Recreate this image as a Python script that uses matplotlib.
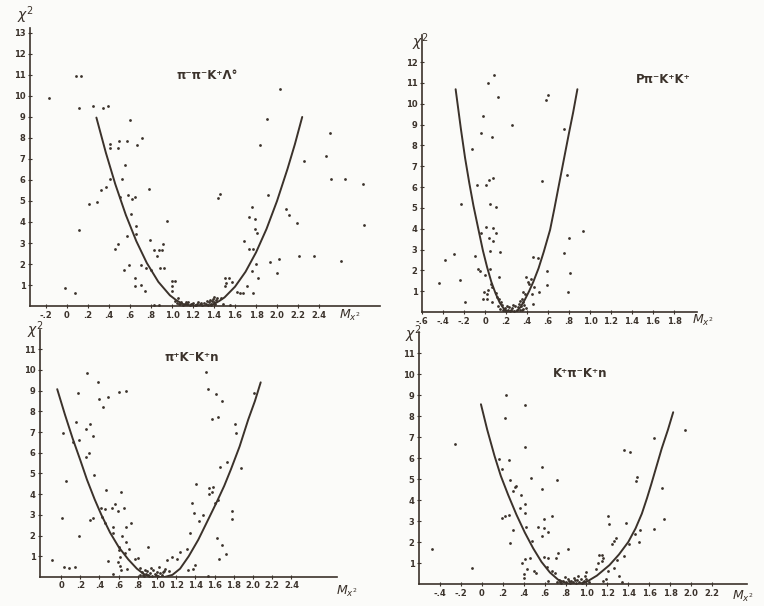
import matplotlib.pyplot as plt

INK = '#3b322b'
PAPER = '#fbfbf9'

# ---- panel 1 : pi- pi- K+ Lambda0
p1_x = [0.086, 0.13, -0.17, 0.114, 0.25, 0.34, 0.39, 0.60, 0.50, 0.41, 0.41, 0.486, 0.57, 0.667, 0.714,
        0.556, 0.41, 0.52, 0.32, 0.374, 0.78, 0.21, 0.29, 0.505, 0.578, 0.62, 0.65, 0.607, 0.114, 0.657,
        0.657, 0.574, 0.95, 0.486, 0.457, 0.79, 0.917, 0.826, 0.876, 0.908, 0.857, 0.587, 0.543, 0.705,
        0.755, 0.803, 0.886, 0.924, 0.648, 0.65, 0.70, 0.743, -0.02, 0.076, 0.997, 1.03, 1.0, 1.0, 0.83, 0.88,
        2.03, 1.90, 1.84, 2.50, 2.47, 2.26, 2.51, 2.65, 2.82, 2.83, 1.457, 1.435, 1.91, 1.76, 1.73, 1.79,
        2.09, 2.11, 2.19, 1.79, 1.81, 1.69, 1.73, 1.77, 2.02, 1.93, 2.21, 2.35, 2.61, 1.80, 1.765, 2.0,
        1.82, 1.50, 1.54, 1.57, 1.51, 1.50, 1.71, 1.62, 1.65, 1.68, 1.77, 1.43, 1.47, 1.49, 1.55,
        1.03, 1.05, 1.07, 1.09, 1.10, 1.12, 1.14, 1.15, 1.17, 1.19, 1.20, 1.22, 1.24, 1.25, 1.27, 1.29,
        1.30, 1.32, 1.34, 1.35, 1.37, 1.38, 1.39, 1.40, 1.41, 1.42, 1.06, 1.36, 1.40,
        1.08, 1.13, 1.18, 1.23, 1.28, 1.33, 1.37]
p1_y = [10.95, 10.95, 9.9, 9.43, 9.5, 9.43, 9.52, 8.87, 7.87, 7.7, 7.52, 7.5, 7.84, 7.67, 8.0,
        6.71, 6.05, 6.05, 5.54, 5.65, 5.59, 4.86, 4.94, 5.2, 5.3, 5.1, 5.18, 4.4, 3.62, 3.81,
        3.43, 3.33, 4.05, 2.95, 2.7, 3.14, 2.94, 2.68, 2.68, 2.68, 2.38, 1.94, 1.7, 1.94,
        1.81, 1.7, 1.79, 1.79, 1.35, 0.97, 1.02, 0.73, 0.84, 0.62, 1.2, 1.2, 0.95, 0.71, 0.05, 0.05,
        10.33, 8.9, 7.68, 8.24, 7.14, 6.9, 6.06, 6.06, 5.81, 3.84, 5.35, 5.13, 5.3, 4.73, 4.24, 4.14,
        4.63, 4.32, 3.97, 3.65, 3.49, 3.1, 2.73, 2.73, 2.25, 2.08, 2.38, 2.38, 2.16, 2.0, 1.65, 1.56,
        1.32, 1.32, 1.32, 1.16, 1.08, 0.95, 0.94, 0.68, 0.64, 0.64, 0.62, 0.4, 0.37, 0.08, 0.05,
        0.25, 0.15, 0.1, 0.2, 0.05, 0.12, 0.08, 0.18, 0.05, 0.1, 0.15, 0.05, 0.12, 0.2, 0.08, 0.05,
        0.15, 0.1, 0.05, 0.18, 0.12, 0.25, 0.35, 0.2, 0.1, 0.3, 0.4, 0.3, 0.45,
        0.08, 0.2, 0.12, 0.06, 0.15, 0.22, 0.06]
c1_x = [0.28, 0.37, 0.46, 0.56, 0.66, 0.76, 0.87, 0.98, 1.04, 1.10, 1.20, 1.30, 1.36, 1.40, 1.45,
        1.50, 1.60, 1.70, 1.80, 1.90, 2.00, 2.10, 2.17, 2.24]
c1_y = [8.97, 7.30, 5.80, 4.34, 3.09, 2.05, 1.15, 0.51, 0.28, 0.1, 0.0, 0.0, 0.04, 0.1, 0.24,
        0.41, 0.92, 1.63, 2.55, 3.67, 5.0, 6.53, 7.7, 9.0]

# ---- panel 2 : p pi- K+ K+
p2_x = [0.086, 0.03, 0.124, 0.60, 0.58, -0.016, 0.257, 0.755, -0.035, 0.064, -0.124, 0.038, 0.073, -0.08,
        0.006, 0.54, 0.78, -0.23, 0.045, 0.10, 0.006, 0.073, -0.04, 0.10, 0.035, 0.08, 0.93, 0.80, 0.048,
        0.143, -0.295, -0.10, -0.38, 0.75, 0.457, 0.50, -0.07, -0.05, 0.048, 0.59, 0.81, 0.0, 0.133, -0.44,
        -0.235, 0.39, 0.44, 0.41, 0.42, 0.59, 0.054, 0.064, 0.47, 0.03, -0.01, 0.02, 0.36, 0.38, 0.51, 0.79,
        0.45, -0.016, 0.016, 0.064, -0.19, 0.35, 0.365, 0.46, 0.10, 0.11, 0.13,
        0.12, 0.14, 0.16, 0.17, 0.19, 0.20, 0.22, 0.23, 0.25, 0.26, 0.28, 0.29, 0.30, 0.31, 0.32, 0.33,
        0.34, 0.36, 0.37, 0.39, 0.15, 0.33, 0.27, 0.21, 0.18, 0.24, 0.35]
p2_y = [11.4, 11.0, 10.34, 10.4, 10.2, 9.42, 9.0, 8.78, 8.59, 8.4, 7.84, 6.35, 6.43, 6.1,
        6.1, 6.27, 6.59, 5.2, 5.2, 5.06, 4.09, 4.02, 3.78, 3.78, 3.57, 3.43, 3.91, 3.54, 2.92,
        2.87, 2.79, 2.69, 2.5, 2.82, 2.63, 2.58, 2.05, 1.97, 2.07, 1.96, 1.89, 1.78, 1.67, 1.41,
        1.55, 1.67, 1.6, 1.46, 1.36, 1.31, 1.35, 1.22, 1.19, 1.06, 0.95, 0.88, 0.95, 0.85, 0.95, 0.95,
        0.85, 0.63, 0.63, 0.5, 0.5, 0.61, 0.47, 0.37, 0.9, 0.71, 0.61,
        0.3, 0.15, 0.35, 0.1, 0.2, 0.05, 0.12, 0.25, 0.08, 0.18, 0.05, 0.3, 0.12, 0.22, 0.4, 0.1,
        0.28, 0.15, 0.35, 0.2, 0.5, 0.55, 0.35, 0.3, 0.08, 0.06, 0.08]
c2_x = [-0.28, -0.23, -0.19, -0.15, -0.11, -0.06, -0.02, 0.02, 0.06, 0.10, 0.14, 0.18, 0.22, 0.30,
        0.34, 0.38, 0.42, 0.46, 0.51, 0.56, 0.62, 0.66, 0.70, 0.75, 0.80, 0.84, 0.88]
c2_y = [10.7, 8.8, 7.4, 6.2, 5.1, 3.9, 2.95, 2.15, 1.45, 0.9, 0.45, 0.15, 0.02, 0.02,
        0.25, 0.6, 1.0, 1.45, 2.1, 2.9, 3.95, 4.95, 6.0, 7.3, 8.6, 9.6, 10.7]

# ---- panel 3 : pi+ K- K+ n
p3_x = [0.27, 0.38, 0.18, 0.40, 0.486, 0.44, 0.60, 0.68, 0.16, 0.30, 0.26, 0.33, 0.02, 0.19, 0.12, 0.295,
        0.257, 0.34, 0.05, 0.466, 0.62, 0.56, 0.66, 0.59, 0.42, 0.46, 0.53, 0.33, 0.30, 0.01, 0.43, 0.46,
        0.73, 0.545, 0.68, 0.54, 0.63, 0.19, 0.68, 0.705, 0.91, 0.60, 0.60, 0.67, 0.615, 0.59, 0.77, 0.80,
        0.49, -0.09, 0.03, 0.08, 0.146, 0.615, 0.625, 0.69, 0.54, 0.82, 1.10, 1.16, 1.21, 1.31, 1.07, 1.12,
        1.51, 1.53, 1.61, 1.68, 2.01, 1.57, 1.63, 1.81, 1.82, 1.66, 1.73, 1.87, 1.41, 1.545, 1.58, 1.57,
        1.545, 1.63, 1.60, 1.36, 1.39, 1.48, 1.44, 1.78, 1.78, 1.34, 1.62, 1.68, 1.72, 1.65, 1.24, 1.40,
        1.37, 1.32, 1.53,
        0.82, 0.84, 0.86, 0.88, 0.90, 0.91, 0.93, 0.95, 0.96, 0.98, 1.0, 1.01, 1.03, 1.05, 1.08, 0.87, 0.94, 1.02,
        0.85, 0.92, 0.99, 1.06]
p3_y = [9.84, 9.4, 8.9, 8.6, 8.71, 8.23, 8.92, 9.0, 7.5, 7.38, 7.13, 6.8, 6.94, 6.62, 6.5, 5.97,
        5.8, 4.91, 4.65, 4.19, 4.09, 3.54, 3.32, 3.19, 3.32, 3.27, 3.32, 2.87, 2.77, 2.83, 2.91, 2.59,
        2.59, 2.43, 2.43, 2.14, 2.0, 2.0, 1.69, 1.37, 1.47, 1.47, 1.29, 1.14, 0.98, 0.74, 0.85, 0.9,
        0.79, 0.82, 0.47, 0.45, 0.5, 0.53, 0.34, 0.37, 0.14, 0.42, 0.82, 0.98, 0.85, 1.35, 0.3, 0.3,
        9.92, 9.08, 8.83, 8.52, 8.9, 7.62, 7.71, 7.41, 6.97, 5.31, 5.54, 5.27, 4.51, 4.31, 4.33, 4.11,
        4.02, 3.72, 3.56, 3.57, 3.08, 2.98, 2.7, 3.2, 2.79, 2.14, 1.88, 1.55, 1.1, 0.85, 1.22, 0.56,
        0.39, 0.34, 0.05,
        0.1, 0.25, 0.05, 0.15, 0.3, 0.08, 0.2, 0.05, 0.35, 0.12, 0.25, 0.05, 0.18, 0.1, 0.4, 0.35, 0.45, 0.5,
        0.08, 0.06, 0.08, 0.22]
c3_x = [-0.04, 0.04, 0.12, 0.20, 0.27, 0.35, 0.42, 0.51, 0.60, 0.70, 0.79, 0.86, 0.93, 1.08, 1.16,
        1.24, 1.33, 1.43, 1.52, 1.62, 1.70, 1.77, 1.86, 1.95, 2.02, 2.08]
c3_y = [9.07, 7.85, 6.7, 5.65, 4.7, 3.75, 3.0, 2.15, 1.45, 0.85, 0.4, 0.15, 0.0, 0.0, 0.1,
        0.4, 1.0, 1.8, 2.65, 3.6, 4.4, 5.2, 6.3, 7.6, 8.5, 9.4]

# ---- panel 4 : K+ pi- K+ n
p4_x = [0.23, 0.41, 0.22, -0.26, 0.41, 0.166, 0.26, 0.195, 0.574, 0.466, 0.268, 0.72, 0.33, 0.32, 0.30,
        0.574, 0.376, 0.41, 0.367, 0.41, 0.26, 0.22, 0.195, 0.667, 0.42, 0.54, 0.59, 0.59, 0.57, 0.63,
        0.30, 0.48, 0.27, -0.48, 0.82, 0.73, 0.46, 0.59, 0.63, 0.41, 0.386, 0.71, -0.096, 0.43, 0.495,
        0.52, 0.40, 0.40, 0.62, 0.667, 0.70, 0.63,
        1.94, 1.65, 1.36, 1.42, 1.48, 1.47, 1.72, 1.21, 1.22, 1.38, 1.745, 1.65, 1.51, 1.46, 1.28, 1.26,
        1.24, 1.41, 1.505, 1.36, 1.29, 1.12, 1.15, 1.155, 1.15, 1.11, 1.09, 1.26, 1.21, 1.0, 0.99, 1.31,
        1.34, 1.16, 1.19,
        0.72, 0.74, 0.76, 0.78, 0.80, 0.82, 0.84, 0.85, 0.87, 0.88, 0.90, 0.91, 0.93, 0.95, 0.96, 0.98,
        1.0, 1.02, 0.79, 0.92, 0.75, 0.83, 0.89, 0.97]
p4_y = [8.98, 8.52, 7.92, 6.65, 6.54, 5.97, 5.9, 5.5, 5.59, 5.06, 4.95, 4.95, 4.68, 4.63, 4.44,
        4.52, 4.22, 3.8, 3.62, 3.37, 3.29, 3.25, 3.14, 3.25, 2.71, 2.71, 2.68, 3.08, 2.3, 2.46,
        2.56, 2.05, 1.94, 1.68, 1.67, 1.49, 1.25, 1.3, 1.25, 1.18, 1.0, 1.25, 0.76, 0.73, 0.62,
        0.51, 0.46, 0.3, 0.8, 0.62, 0.51, 0.13,
        7.32, 6.97, 6.38, 6.3, 5.08, 4.92, 4.59, 3.25, 2.87, 2.9, 3.1, 2.6, 2.56, 2.38, 2.18, 2.06,
        1.89, 1.9, 1.98, 1.33, 1.14, 1.37, 1.37, 1.22, 1.1, 1.01, 0.71, 0.78, 0.63, 0.59, 0.38, 0.37,
        0.08, 0.16, 0.22,
        0.1, 0.2, 0.05, 0.15, 0.08, 0.25, 0.05, 0.15, 0.1, 0.3, 0.05, 0.18, 0.1, 0.22, 0.05, 0.15,
        0.25, 0.1, 0.35, 0.4, 0.08, 0.12, 0.2, 0.08]
c4_x = [-0.01, 0.05, 0.12, 0.18, 0.25, 0.33, 0.41, 0.49, 0.57, 0.65, 0.73, 0.82, 0.93, 1.00, 1.10,
        1.22, 1.31, 1.40, 1.47, 1.53, 1.58, 1.62, 1.67, 1.72, 1.78, 1.83]
c4_y = [8.56, 7.35, 6.1, 5.15, 4.25, 3.3, 2.45, 1.7, 1.05, 0.55, 0.2, 0.02, 0.0, 0.1, 0.4,
        0.9, 1.4, 2.0, 2.65, 3.35, 4.1, 4.75, 5.6, 6.45, 7.35, 8.18]

# tick labels
xt1 = [-0.2, 0, 0.2, 0.4, 0.6, 0.8, 1.0, 1.2, 1.4, 1.6, 1.8, 2.0, 2.2, 2.4]
xl1 = ['-.2', '0', '.2', '.4', '.6', '.8', '1.0', '1.2', '1.4', '1.6', '1.8', '2.0', '2.2', '2.4']
xt2 = [-0.6, -0.4, -0.2, 0, 0.2, 0.4, 0.6, 0.8, 1.0, 1.2, 1.4, 1.6, 1.8]
xl2 = ['-.6', '-.4', '-.2', '0', '.2', '.4', '.6', '.8', '1.0', '1.2', '1.4', '1.6', '1.8']
xt3 = [0, 0.2, 0.4, 0.6, 0.8, 1.0, 1.2, 1.4, 1.6, 1.8, 2.0, 2.2, 2.4]
xl3 = ['0', '.2', '.4', '.6', '.8', '1.0', '1.2', '1.4', '1.6', '1.8', '2.0', '2.2', '2.4']
xt4 = [-0.4, -0.2, 0, 0.2, 0.4, 0.6, 0.8, 1.0, 1.2, 1.4, 1.6, 1.8, 2.0, 2.2]
xl4 = ['-.4', '-.2', '0', '.2', '.4', '.6', '.8', '1.0', '1.2', '1.4', '1.6', '1.8', '2.0', '2.2']

titles = ['π⁻π⁻K⁺Λ°', 'Pπ⁻K⁺K⁺', 'π⁺K⁻K⁺n', 'K⁺π⁻K⁺n']

fig = plt.figure(figsize=(7.64, 6.06), dpi=100, facecolor=PAPER)


def panel(rect, px, py, cx, cy, xlim, ytop, xt, xl, ymax, title, tpos, mpos, chipos):
    ax = fig.add_axes(rect)
    ax.set_facecolor('none')
    ax.plot(cx, cy, color=INK, lw=1.4, solid_joinstyle='round', solid_capstyle='round')
    ax.scatter(px, py, s=4, color=INK, lw=0)
    ax.set_xlim(*xlim)
    ax.set_ylim(0, ytop)
    for s in ['top', 'right']:
        ax.spines[s].set_visible(False)
    for s in ['left', 'bottom']:
        ax.spines[s].set_color(INK)
        ax.spines[s].set_linewidth(1.2)
    ax.set_xticks(xt)
    ax.set_xticklabels(xl)
    ax.set_yticks(range(1, ymax + 1))
    ax.set_yticklabels([str(v) for v in range(1, ymax + 1)])
    ax.tick_params(length=2.5, width=0.8, color=INK, direction='inout', labelsize=6,
                   labelcolor=INK, pad=2)
    for t in ax.get_xticklabels() + ax.get_yticklabels():
        t.set_fontweight('bold')
    ax.text(tpos[0], tpos[1], title, transform=ax.transAxes, ha='center', va='center',
            fontsize=8.5, fontweight='bold', color=INK)
    ax.text(mpos[0], mpos[1], r'$M_{x^2}$', transform=ax.transAxes, ha='center', va='center',
            fontsize=9, color=INK)
    ax.text(chipos[0], chipos[1], r'$\chi^2$', transform=ax.transAxes, ha='center', va='center',
            fontsize=10, color=INK)
    return ax


panel([0.0393, 0.495, 0.458, 0.459], p1_x, p1_y, c1_x, c1_y, (-0.352, 2.98), 13.24,
      xt1, xl1, 13, titles[0], (0.506, 0.827), (0.914, -0.035), (-0.014, 1.047))
panel([0.5524, 0.4851, 0.36, 0.457], p2_x, p2_y, c2_x, c2_y, (-0.6, 2.02), 13.3,
      xt2, xl2, 12, titles[1], (0.876, 0.838), (1.022, -0.03), (-0.007, 0.975))
panel([0.0524, 0.0479, 0.3887, 0.4076], p3_x, p3_y, c3_x, c3_y, (-0.219, 2.875), 11.93,
      xt3, xl3, 11, titles[2], (0.512, 0.887), (1.034, -0.06), (-0.017, 1.0))
panel([0.5484, 0.0363, 0.4293, 0.4158], p4_x, p4_y, c4_x, c4_y, (-0.603, 2.536), 12.0,
      xt4, xl4, 11, titles[3], (0.49, 0.837), (0.988, -0.05), (-0.018, 0.99))

fig.savefig('out.png', dpi=100, facecolor=PAPER)
